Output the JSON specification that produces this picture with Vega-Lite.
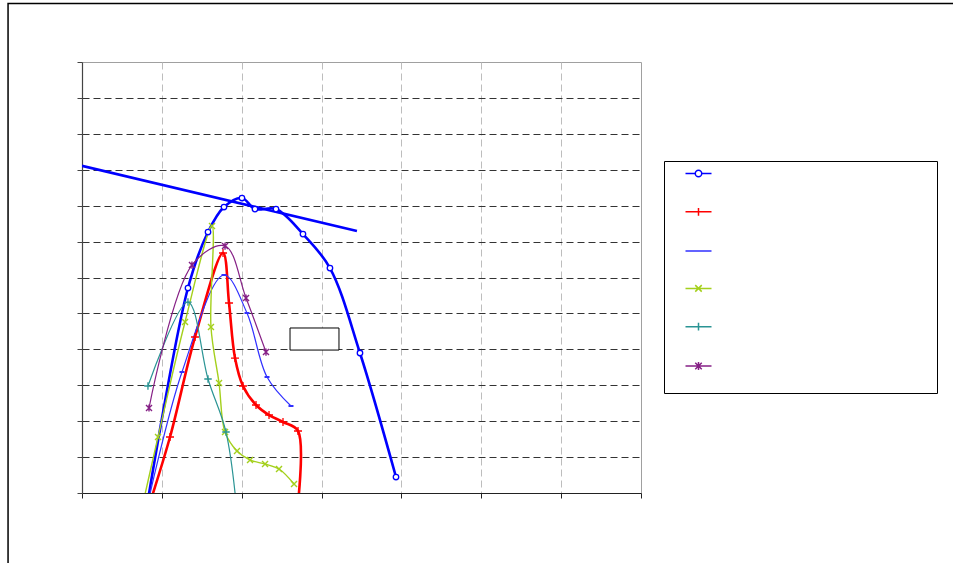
{
 "$schema": "https://vega.github.io/schema/vega-lite/v6.json",
 "width": 559, "height": 431,
 "autosize": {"type": "none"},
 "padding": {"left": 82, "top": 62, "right": 312, "bottom": 70},
 "background": "white",
 "config": {"view": {"stroke": "#a0a0a0", "strokeWidth": 1}},
 "data": {"values": [
  {"s":"A","i":0,"x":0.801,"y":-0.53},
  {"s":"A","i":1,"x":1.327,"y":5.707},
  {"s":"A","i":2,"x":1.578,"y":7.266},
  {"s":"A","i":3,"x":1.778,"y":7.962},
  {"s":"A","i":4,"x":2.003,"y":8.213},
  {"s":"A","i":5,"x":2.166,"y":7.906},
  {"s":"A","i":6,"x":2.429,"y":7.906},
  {"s":"A","i":7,"x":2.767,"y":7.21},
  {"s":"A","i":8,"x":3.105,"y":6.263},
  {"s":"A","i":9,"x":3.481,"y":3.898},
  {"s":"A","i":10,"x":3.932,"y":0.445},
  {"s":"B","i":0,"x":0.814,"y":-0.53},
  {"s":"B","i":1,"x":1.102,"y":1.559},
  {"s":"B","i":2,"x":1.415,"y":4.343},
  {"s":"B","i":3,"x":1.766,"y":6.682},
  {"s":"B","i":4,"x":1.841,"y":5.29},
  {"s":"B","i":5,"x":1.916,"y":3.758},
  {"s":"B","i":6,"x":2.016,"y":2.979},
  {"s":"B","i":7,"x":2.179,"y":2.45},
  {"s":"B","i":8,"x":2.342,"y":2.171},
  {"s":"B","i":9,"x":2.517,"y":1.977},
  {"s":"B","i":10,"x":2.705,"y":1.726},
  {"s":"B","i":11,"x":2.692,"y":-0.53},
  {"s":"C","i":0,"x":0.8,"y":-0.53},
  {"s":"C","i":1,"x":1.252,"y":3.369},
  {"s":"C","i":2,"x":1.778,"y":6.069},
  {"s":"C","i":3,"x":2.066,"y":5.011},
  {"s":"C","i":4,"x":2.317,"y":3.229},
  {"s":"C","i":5,"x":2.617,"y":2.422},
  {"s":"D","i":0,"x":0.739,"y":-0.53},
  {"s":"D","i":1,"x":0.952,"y":1.559},
  {"s":"D","i":2,"x":1.29,"y":4.761},
  {"s":"D","i":3,"x":1.628,"y":7.433},
  {"s":"D","i":4,"x":1.615,"y":4.621},
  {"s":"D","i":5,"x":1.716,"y":3.062},
  {"s":"D","i":6,"x":1.791,"y":1.698},
  {"s":"D","i":7,"x":1.941,"y":1.169},
  {"s":"D","i":8,"x":2.104,"y":0.919},
  {"s":"D","i":9,"x":2.292,"y":0.807},
  {"s":"D","i":10,"x":2.467,"y":0.668},
  {"s":"D","i":11,"x":2.655,"y":0.251},
  {"s":"E","i":0,"x":0.826,"y":2.979},
  {"s":"E","i":1,"x":1.327,"y":5.317},
  {"s":"E","i":2,"x":1.578,"y":3.174},
  {"s":"E","i":3,"x":1.803,"y":1.698},
  {"s":"E","i":4,"x":1.941,"y":-0.53},
  {"s":"F","i":0,"x":0.839,"y":2.366},
  {"s":"F","i":1,"x":1.377,"y":6.347},
  {"s":"F","i":2,"x":1.791,"y":6.876},
  {"s":"F","i":3,"x":2.054,"y":5.429},
  {"s":"F","i":4,"x":2.304,"y":3.925},
  {"s":"G","i":0,"x":0,"y":9.11},
  {"s":"G","i":1,"x":3.443,"y":7.294}
 ]},
 "layer": [
  {
   "data": {"values": [{}]},
   "mark": {"type": "rect", "fillOpacity": 0, "stroke": "#000000", "strokeWidth": 1.5},
   "encoding": {
    "x": {"datum": -0.926, "type": "quantitative", "scale": {"domain": [0, 7], "nice": false, "zero": false},
     "axis": {"values": [0,1,2,3,4,5,6,7], "tickCount": 8, "labels": false, "title": null, "tickSize": 5, "tickColor": "#222222", "domainColor": "#222222", "domainWidth": 1.2,
      "grid": true, "gridColor": "#bdbdbd", "gridDash": [7, 4], "gridWidth": 1,
      "gridOpacity": {"condition": {"test": "datum.value == 0 || datum.value == 7", "value": 0}, "value": 1}}},
    "x2": {"datum": 12},
    "y": {"datum": 13.63, "type": "quantitative", "scale": {"domain": [0, 12], "nice": false, "zero": false},
     "axis": {"values": [0,1,2,3,4,5,6,7,8,9,10,11,12], "tickCount": 13, "labels": false, "title": null, "tickSize": 5, "tickColor": "#444444", "domainColor": "#444444", "domainWidth": 1.2,
      "grid": true, "gridColor": "#333333", "gridDash": [7, 4], "gridWidth": 1,
      "gridOpacity": {"condition": {"test": "datum.value == 0 || datum.value == 12", "value": 0}, "value": 1}}},
    "y2": {"datum": -3}
   }
  },
  {
   "transform": [{"filter": "datum.s != 'G'"}],
   "mark": {"type": "line", "interpolate": "catmull-rom", "clip": true},
   "encoding": {
    "x": {"field": "x", "type": "quantitative"},
    "y": {"field": "y", "type": "quantitative"},
    "order": {"field": "i", "type": "quantitative"},
    "stroke": {"field": "s", "type": "nominal", "legend": null,
     "scale": {"domain": ["F","E","D","C","B","A"], "range": ["#862086","#2a9494","#a4d01c","#3030ff","#ff0000","#0000ff"]}},
    "strokeWidth": {"field": "s", "type": "nominal", "legend": null,
     "scale": {"type": "ordinal", "domain": ["B","A","C","D","E","F"], "range": [2.6, 2.6, 1.2, 1.4, 1.2, 1.2]}}
   }
  },
  {
   "transform": [{"filter": "datum.s == 'G'"}],
   "mark": {"type": "line", "color": "#0000ff", "strokeWidth": 2.6, "clip": true},
   "encoding": {
    "x": {"field": "x", "type": "quantitative"},
    "y": {"field": "y", "type": "quantitative"},
    "order": {"field": "i", "type": "quantitative"}
   }
  },
  {
   "transform": [{"filter": "datum.s == 'A'"}],
   "mark": {"type": "point", "shape": "circle", "filled": true, "fill": "white", "stroke": "#0000ff", "strokeWidth": 1.3, "size": 30, "opacity": 1, "clip": true},
   "encoding": {"x": {"field": "x", "type": "quantitative"}, "y": {"field": "y", "type": "quantitative"}}
  },
  {
   "transform": [{"filter": "datum.s == 'B'"}],
   "mark": {"type": "point", "shape": "M-1,0H1M0,-1V1", "filled": false, "stroke": "#ff0000", "strokeWidth": 1.3, "size": 64, "opacity": 1, "clip": true},
   "encoding": {"x": {"field": "x", "type": "quantitative"}, "y": {"field": "y", "type": "quantitative"}}
  },
  {
   "transform": [{"filter": "datum.s == 'C'"}],
   "mark": {"type": "point", "shape": "M-1,0H1", "filled": false, "stroke": "#3030ff", "strokeWidth": 2, "size": 25, "opacity": 1, "clip": true},
   "encoding": {"x": {"field": "x", "type": "quantitative"}, "y": {"field": "y", "type": "quantitative"}}
  },
  {
   "transform": [{"filter": "datum.s == 'D'"}],
   "mark": {"type": "point", "shape": "M-1,-1L1,1M-1,1L1,-1", "filled": false, "stroke": "#a4d01c", "strokeWidth": 1.4, "size": 36, "opacity": 1, "clip": true},
   "encoding": {"x": {"field": "x", "type": "quantitative"}, "y": {"field": "y", "type": "quantitative"}}
  },
  {
   "transform": [{"filter": "datum.s == 'E'"}],
   "mark": {"type": "point", "shape": "M-1,0H1M0,-1V1", "filled": false, "stroke": "#2a9494", "strokeWidth": 1.3, "size": 56, "opacity": 1, "clip": true},
   "encoding": {"x": {"field": "x", "type": "quantitative"}, "y": {"field": "y", "type": "quantitative"}}
  },
  {
   "transform": [{"filter": "datum.s == 'F'"}],
   "mark": {"type": "point", "shape": "M-1,-1L1,1M-1,1L1,-1M0,-1.2V1.2", "filled": false, "stroke": "#862086", "strokeWidth": 1.4, "size": 36, "opacity": 1, "clip": true},
   "encoding": {"x": {"field": "x", "type": "quantitative"}, "y": {"field": "y", "type": "quantitative"}}
  },
  {
   "data": {"values": [{}]},
   "mark": {"type": "rect", "fill": "white", "stroke": "#000000", "strokeWidth": 1},
   "encoding": {
    "x": {"datum": 2.605, "type": "quantitative"},
    "x2": {"datum": 3.218},
    "y": {"datum": 4.594, "type": "quantitative"},
    "y2": {"datum": 3.98}
   }
  },
  {
   "transform": [{"filter": "datum.s != 'G'"}],
   "mark": {"type": "point", "filled": false, "opacity": 0},
   "encoding": {
    "x": {"field": "x", "type": "quantitative"},
    "y": {"field": "y", "type": "quantitative"},
    "color": {"field": "s", "type": "nominal", "title": " ",
     "scale": {"domain": ["A","B","C","D","E","F"], "range": ["#0000ff","#ff0000","#3030ff","#a4d01c","#2a9494","#862086"]},
     "legend": {"orient": "none", "legendX": 582, "legendY": 99, "title": " ", "titleOrient": "bottom", "titleFontSize": 11, "titlePadding": 4, "labelExpr": "''",
      "strokeColor": "#000000", "fillColor": "white", "padding": 5, "symbolOffset": 22, "labelOffset": 226,
      "rowPadding": 24.3, "symbolSize": 169, "labelFontSize": 11, "symbolOpacity": 1,
      "encode": {"symbols": {"update": {"strokeWidth": {"signal": "datum.value == 'A' || datum.value == 'B' ? 2.6 : 1.3"}, "opacity": {"value": 1}}}}}},
    "shape": {"field": "s", "type": "nominal", "title": " ",
     "legend": {"orient": "none", "legendX": 582, "legendY": 99, "title": " ", "titleOrient": "bottom", "titleFontSize": 11, "titlePadding": 4, "labelExpr": "''",
      "strokeColor": "#000000", "fillColor": "white", "padding": 5, "symbolOffset": 22, "labelOffset": 226,
      "rowPadding": 24.3, "symbolSize": 169, "labelFontSize": 11, "symbolOpacity": 1},
     "scale": {"domain": ["A","B","C","D","E","F"], "range": [
      "M-2,0H-0.5M0.5,0H2M0.5,0A0.5,0.5,0,1,1,-0.5,0A0.5,0.5,0,1,1,0.5,0",
      "M-2,0H2M0,-0.6V0.6",
      "M-2,0H2M-0.25,0H0.25",
      "M-2,0H2M-0.5,-0.5L0.5,0.5M-0.5,0.5L0.5,-0.5",
      "M-2,0H2M0,-0.6V0.6Z",
      "M-2,0H2M-0.5,-0.5L0.5,0.5M-0.5,0.5L0.5,-0.5M0,-0.6V0.6"]}}
   }
  }
 ]
}
